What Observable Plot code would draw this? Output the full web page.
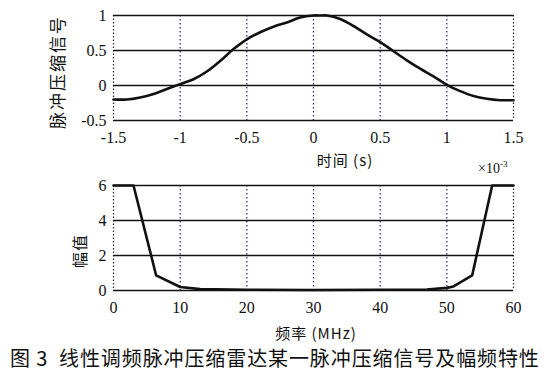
<!DOCTYPE html>
<html><head><meta charset="utf-8">
<script src="https://cdn.jsdelivr.net/npm/d3@7"></script>
<script src="https://cdn.jsdelivr.net/npm/@observablehq/plot@0.6"></script>
<style>
body{margin:0;background:#fff;}
#wrap{position:relative;width:549px;height:377px;overflow:hidden;background:#fff;}
#wrap svg{position:absolute;left:0;}
#wrap svg, #wrap svg g, #wrap svg text{font-family:"Liberation Serif","DejaVu Serif","Times New Roman",serif !important;font-size:16px !important;}
.lab{position:absolute;font-family:"Noto Sans CJK SC",sans-serif;color:#111;white-space:nowrap;line-height:1;}
.num{font-family:"Liberation Serif","DejaVu Serif","Times New Roman",serif;}
</style></head>
<body><div id="wrap"></div>
<script>
// top: pulse compression signal vs time (s)
const timeS = [-1.5,-1.4,-1.3,-1.2,-1.1,-1.0,-0.9,-0.8,-0.7,-0.6,-0.5,-0.4,-0.3,-0.2,-0.1,0.0,0.05,0.1,0.2,0.3,0.4,0.5,0.6,0.7,0.8,0.9,1.0,1.1,1.2,1.3,1.4,1.5];
const pulseAmp = [-0.20,-0.20,-0.17,-0.12,-0.05,0.02,0.09,0.20,0.35,0.52,0.66,0.76,0.84,0.90,0.97,1.00,1.00,1.00,0.95,0.85,0.73,0.62,0.49,0.36,0.24,0.13,0.01,-0.08,-0.15,-0.19,-0.21,-0.21];
const timeTicks = [-1.5,-1,-0.5,0,0.5,1,1.5];
const ampTicks = [-0.5,0,0.5,1];
// bottom: amplitude (x10^-3) vs frequency (MHz)
const freqMHz = [0,3,6.4,10,13,20,30,40,47,50,51,53.8,56.8,60];
const magnitude = [6,6,0.86,0.2,0.08,0.04,0.03,0.04,0.06,0.15,0.23,0.86,6,6];
const freqTicks = [0,10,20,30,40,50,60];
const magTicks = [0,2,4,6];

const wrap = document.getElementById("wrap");
const axisFont = {fontSize:"16px", fontFamily:"'Liberation Serif', serif", color:"#111", background:"transparent"};

function panel(xs, ys, xT, yT, xDom, yDom, top, curve){
  const data = xs.map((x,i)=>({x, y: ys[i]}));
  const inner = xT.filter(t => t!==xDom[0] && t!==xDom[1]);
  const p = Plot.plot({
    width:549, height:170,
    marginLeft:113, marginRight:36, marginTop:15, marginBottom:50,
    style: axisFont,
    x:{domain:xDom, ticks:xT, tickSize:0, tickPadding:11, label:null, tickFormat:d=>String(d)},
    y:{domain:yDom, ticks:yT, tickSize:0, tickPadding:7, label:null, tickFormat:d=>String(d)},
    marks:[
      Plot.ruleX(inner, {stroke:"#1a2a6a", strokeWidth:1.2, strokeDasharray:"1.5,2.5"}),
      Plot.ruleX([xDom[0], xDom[1]], {stroke:"#222", strokeWidth:1.2, strokeDasharray:"1.5,2"}),
      Plot.ruleY(yT, {stroke:"#111", strokeWidth:1.5}),
      Plot.line(data, {x:"x", y:"y", stroke:"#111", strokeWidth:2.6, curve})
    ]
  });
  p.style.top = top + "px";
  p.querySelectorAll("[font-family]").forEach(n => n.removeAttribute("font-family"));
  wrap.appendChild(p);
}
panel(timeS, pulseAmp, timeTicks, ampTicks, [-1.5,1.5], [-0.5,1], 0, "catmull-rom");
panel(freqMHz, magnitude, freqTicks, magTicks, [0,60], [0,6], 170, "linear");

function label(text, css){
  const d = document.createElement("div");
  d.className = "lab";
  d.innerHTML = text;
  Object.assign(d.style, css);
  wrap.appendChild(d);
  return d;
}
label("脉冲压缩信号", {left:"56px", top:"72px", fontSize:"17px", letterSpacing:"2px", transform:"translate(-50%,-50%) rotate(-90deg)"});
label("时间 (s)", {left:"345px", top:"159px", fontSize:"15px", letterSpacing:"1px", transform:"translate(-50%,-50%)"});
label("幅值", {left:"79px", top:"251px", fontSize:"16px", letterSpacing:"1px", transform:"translate(-50%,-50%) rotate(-90deg)"});
label("频率 (MHz)", {left:"316px", top:"332px", fontSize:"15px", letterSpacing:"1px", transform:"translate(-50%,-50%)"});
label("<span class='num'>×10<sup style='font-size:9px'>-3</sup></span>", {left:"478px", top:"160px", fontSize:"14px"});
label("图 3&nbsp;&nbsp;线性调频脉冲压缩雷达某一脉冲压缩信号及幅频特性", {left:"10px", top:"358px", fontSize:"20px", letterSpacing:"0.9px", transform:"translateY(-50%)"});
</script>
</body></html>
